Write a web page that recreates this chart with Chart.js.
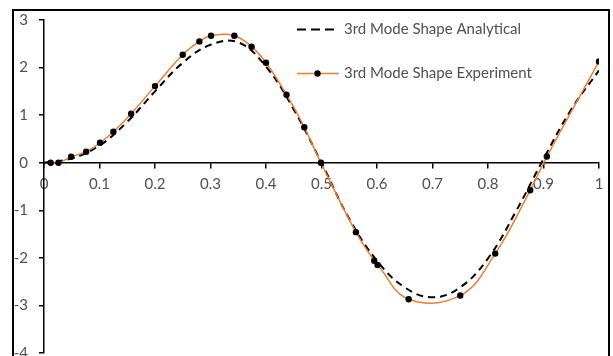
<!DOCTYPE html>
<html>
<head>
<meta charset="utf-8">
<script src="https://cdn.jsdelivr.net/npm/chart.js@4"></script>
<style>
  html, body { margin: 0; padding: 0; overflow: hidden; background: #fff; }
  #wrap { width: 613px; height: 376px; position: relative; }
</style>
</head>
<body>
<div id="wrap"><canvas id="chart" width="613" height="376"></canvas></div>
<script>
// Normalised position along the beam
const experimentX = [0.012, 0.026, 0.049, 0.076, 0.101, 0.125, 0.157, 0.2, 0.25, 0.28, 0.301, 0.343, 0.374, 0.4, 0.437, 0.469, 0.499, 0.562, 0.595, 0.601, 0.657, 0.75, 0.813, 0.876, 0.906, 1.0];
// Measured 3rd mode shape
const experimentY = [0, 0, 0.126, 0.23, 0.42, 0.65, 1.03, 1.61, 2.27, 2.55, 2.67, 2.67, 2.44, 2.1, 1.43, 0.745, 0, -1.46, -2.06, -2.15, -2.87, -2.79, -1.91, -0.58, 0.13, 2.13];

// Analytical 3rd mode shape
const analyticalX = [0, 0.05, 0.1, 0.15, 0.2, 0.25, 0.3, 0.35, 0.4, 0.45, 0.5, 0.55, 0.6, 0.65, 0.7, 0.75, 0.8, 0.85, 0.9, 0.95, 1.0];
const analyticalY = [0, 0.09, 0.36, 0.86, 1.5, 2.1, 2.48, 2.53, 2.02, 1.12, 0, -1.18, -2.06, -2.62, -2.83, -2.62, -2.01, -1.03, 0.08, 1.12, 1.94];

const seriesNames = ['3rd Mode Shape Analytical', '3rd Mode Shape Experiment'];
const xTickStep = 0.1;
const yTickStep = 1;

const ORANGE = '#ED7D31';
const TEXT = '#505050';
const FONT = 'Lato, "Liberation Sans", sans-serif';

const toPoints = (xs, ys) => xs.map((x, i) => ({ x: x, y: ys[i] }));

// Outer frame and in-plot legend
const framePlugin = {
  id: 'frameAndLegend',
  afterDraw(chart) {
    const ctx = chart.ctx;
    ctx.save();
    ctx.strokeStyle = '#000';
    ctx.lineWidth = 2;
    ctx.setLineDash([]);
    ctx.strokeRect(13, 10, 596, 420);

    ctx.font = '15px ' + FONT;
    ctx.fillStyle = TEXT;
    ctx.textBaseline = 'middle';
    ctx.textAlign = 'left';

    // analytical entry
    ctx.strokeStyle = '#000';
    ctx.lineWidth = 2;
    ctx.setLineDash([9, 5]);
    ctx.beginPath();
    ctx.moveTo(297, 29.5);
    ctx.lineTo(339, 29.5);
    ctx.stroke();
    ctx.setLineDash([]);
    ctx.fillText(seriesNames[0], 344, 29);

    // experiment entry
    ctx.strokeStyle = ORANGE;
    ctx.lineWidth = 1.5;
    ctx.beginPath();
    ctx.moveTo(297, 73.5);
    ctx.lineTo(339, 73.5);
    ctx.stroke();
    ctx.fillStyle = '#000';
    ctx.beginPath();
    ctx.arc(317.5, 73.5, 3.2, 0, Math.PI * 2);
    ctx.fill();
    ctx.fillStyle = TEXT;
    ctx.fillText(seriesNames[1], 344, 73);
    ctx.restore();
  }
};

const axisGrid = {
  drawOnChartArea: false,
  drawTicks: true,
  tickLength: 5,
  color: '#000',
  lineWidth: 1.5
};
const axisBorder = { display: true, color: '#000', width: 1.5 };

new Chart(document.getElementById('chart'), {
  type: 'line',
  data: {
    datasets: [
      {
        label: seriesNames[1],
        data: toPoints(experimentX, experimentY),
        borderColor: ORANGE,
        borderWidth: 1.5,
        pointRadius: 3.2,
        pointBackgroundColor: '#000',
        pointBorderColor: '#000',
        pointBorderWidth: 0,
        tension: 0.4,
        fill: false,
        order: 0
      },
      {
        label: seriesNames[0],
        data: toPoints(analyticalX, analyticalY),
        borderColor: '#000',
        borderWidth: 2,
        borderDash: [7, 5],
        pointRadius: 0,
        tension: 0.4,
        fill: false,
        order: 1
      }
    ]
  },
  options: {
    responsive: false,
    animation: false,
    devicePixelRatio: 1,
    layout: { padding: { left: 0, right: 14, top: 20, bottom: 23 } },
    plugins: {
      legend: { display: false },
      tooltip: { enabled: false }
    },
    scales: {
      x: {
        type: 'linear',
        axis: 'x',
        min: 0,
        max: 1,
        position: { y: 0 },
        grid: axisGrid,
        border: axisBorder,
        ticks: {
          stepSize: xTickStep,
          color: TEXT,
          font: { family: FONT, size: 15 },
          padding: 7,
          maxRotation: 0,
          autoSkip: false,
          callback: (v) => String(Number(v.toFixed(1)))
        }
      },
      y: {
        type: 'linear',
        axis: 'y',
        min: -4,
        max: 3,
        position: 'left',
        grid: axisGrid,
        border: axisBorder,
        afterFit: (scale) => { scale.width = 44; },
        ticks: {
          stepSize: yTickStep,
          color: TEXT,
          font: { family: FONT, size: 15 },
          padding: 11
        }
      }
    }
  },
  plugins: [framePlugin]
});
</script>
</body>
</html>
